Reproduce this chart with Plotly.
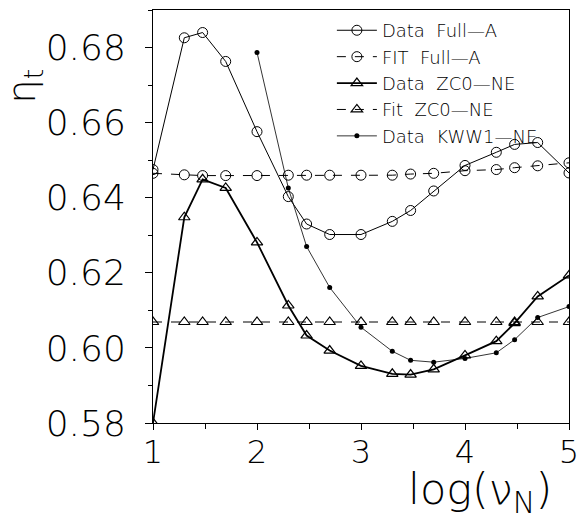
import plotly.graph_objects as go

# log10 of frequency (10, 20, 30, 50, 100, ... 100000)
log_nu = [1.0, 1.301, 1.477, 1.699, 2.0, 2.301, 2.477, 2.699, 3.0,
          3.301, 3.477, 3.699, 4.0, 4.301, 4.477, 4.699, 5.0]

data_full_a = [0.6475, 0.6826, 0.6840, 0.6763, 0.6576, 0.6403, 0.6330, 0.6302, 0.6302,
               0.6337, 0.6366, 0.6418, 0.6486, 0.6521, 0.6542, 0.6547, 0.6466]
fit_full_a = [0.6465, 0.6461, 0.6459, 0.6459, 0.6459, 0.6460, 0.6460, 0.6460, 0.6460,
              0.6460, 0.6463, 0.6465, 0.6472, 0.6475, 0.6480, 0.6485, 0.6493]
data_zc0_ne = [0.5800, 0.6348, 0.6449, 0.6426, 0.6281, 0.6113, 0.6033, 0.5993, 0.5952,
               0.5931, 0.5929, 0.5943, 0.5980, 0.6018, 0.6066, 0.6137, 0.6193]
fit_zc0_ne = [0.6069, 0.6069, 0.6069, 0.6069, 0.6069, 0.6069, 0.6069, 0.6069, 0.6069,
              0.6069, 0.6069, 0.6069, 0.6069, 0.6069, 0.6069, 0.6069, 0.6069]
log_nu_kww = [2.0, 2.301, 2.477, 2.699, 3.0, 3.301, 3.477, 3.699, 4.0, 4.301, 4.477, 4.699, 5.0]
data_kww1_ne = [0.6787, 0.6426, 0.6270, 0.6161, 0.6055, 0.5991, 0.5967, 0.5962, 0.5972,
                0.5987, 0.6022, 0.6081, 0.6110]

x_ticks = [1, 2, 3, 4, 5]
y_ticks = [0.58, 0.60, 0.62, 0.64, 0.66, 0.68]
y_tick_labels = ["0.58", "0.60", "0.62", "0.64", "0.66", "0.68"]

FONT = "DejaVu Sans"
W = 200
SP = "\u00a0\u00a0"
DASH = "\u2014"

fig = go.Figure()
fig.add_trace(go.Scatter(
    x=log_nu, y=data_full_a, mode="lines+markers", name="Data" + SP + "Full" + DASH + "A",
    line=dict(color="black", width=1),
    marker=dict(symbol="circle-open", size=10, color="black", line=dict(width=1))))
fig.add_trace(go.Scatter(
    x=log_nu, y=fit_full_a, mode="lines+markers", name="FIT" + SP + "Full" + DASH + "A",
    line=dict(color="black", width=1, dash="dash"),
    marker=dict(symbol="circle-open", size=10, color="black", line=dict(width=1))))
fig.add_trace(go.Scatter(
    x=log_nu, y=data_zc0_ne, mode="lines+markers", name="Data" + SP + "ZC0" + DASH + "NE",
    line=dict(color="black", width=1.8),
    marker=dict(symbol="triangle-up-open", size=10, color="black", line=dict(width=1.2))))
fig.add_trace(go.Scatter(
    x=log_nu, y=fit_zc0_ne, mode="lines+markers", name="Fit" + SP + "ZC0" + DASH + "NE",
    line=dict(color="black", width=1, dash="dash"),
    marker=dict(symbol="triangle-up-open", size=10, color="black", line=dict(width=1.2))))
fig.add_trace(go.Scatter(
    x=log_nu_kww, y=data_kww1_ne, mode="lines+markers", name="Data" + SP + "KWW1" + DASH + "NE",
    line=dict(color="black", width=0.8),
    marker=dict(symbol="circle", size=5, color="black")))

fig.update_layout(
    width=579, height=519,
    margin=dict(l=153, r=10, t=10, b=96, autoexpand=False),
    paper_bgcolor="white", plot_bgcolor="white",
    font=dict(family=FONT, color="black"),
    showlegend=True,
    legend=dict(x=0.43, y=0.995, xanchor="left", yanchor="top",
                bgcolor="rgba(0,0,0,0)", borderwidth=0,
                font=dict(family=FONT, size=18, color="black", weight=W),
                itemwidth=40, tracegroupgap=0),
    xaxis=dict(range=[1, 5], tickvals=x_ticks, ticktext=[str(v) for v in x_ticks],
               showgrid=False, zeroline=False, showline=True, linecolor="black",
               linewidth=1, mirror=True, ticks="outside", ticklen=6, tickcolor="black",
               minor=dict(dtick=0.5, ticks="outside", ticklen=5, tickcolor="black"),
               tickfont=dict(family=FONT, size=32, weight=W), ticklabelstandoff=-5,
               ticklabeloverflow="allow", automargin=False),
    yaxis=dict(range=[0.58, 0.69], tickvals=y_ticks, ticktext=y_tick_labels,
               showgrid=False, zeroline=False, showline=True, linecolor="black",
               linewidth=1, mirror=True, ticks="outside", ticklen=7, tickcolor="black",
               minor=dict(dtick=0.01, ticks="outside", ticklen=4, tickcolor="black"),
               tickfont=dict(family=FONT, size=36, weight=W), ticklabelstandoff=12,
               ticklabeloverflow="allow", automargin=False),
    annotations=[
        dict(text="log(\u03bd<sub>N</sub>)", xref="paper", yref="paper",
             x=0.787, y=-0.168, xanchor="center", yanchor="middle", showarrow=False,
             font=dict(family=FONT, size=43, weight=W)),
        dict(text="\u03b7<sub>t</sub>", xref="paper", yref="paper",
             x=-0.31, y=0.815, xanchor="center", yanchor="middle", showarrow=False,
             textangle=-90, font=dict(family=FONT, size=38, weight=W)),
    ],
)

# remove the default 8px page margin so the figure fills the 579x519 window exactly
fig.write_html("out.html", config={"displayModeBar": False},
               post_script="document.body.style.margin='0';document.body.style.overflow='hidden';")
